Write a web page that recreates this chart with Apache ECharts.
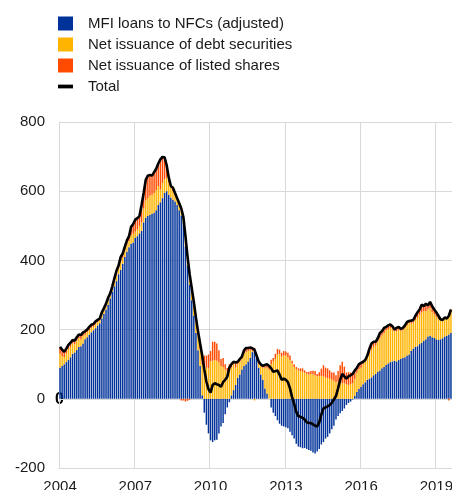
<!DOCTYPE html>
<html>
<head>
<meta charset="utf-8">
<script src="https://cdn.jsdelivr.net/npm/echarts@6/dist/echarts.min.js"></script>
<style>
  html, body { margin: 0; padding: 0; background: #fff; }
  #chart { width: 452px; height: 490px; }
</style>
</head>
<body>
<div id="chart"></div>
<script>
// monthly, Jan 2004 - Aug 2019
const startYear = 2004;
const monthCount = 188;
const yearLabels = ['2004', '2007', '2010', '2013', '2016', '2019'];

const loans = [
  90, 95, 100, 106, 112, 120, 130, 134, 142, 150, 152, 160,
  172, 178, 185, 192, 198, 204, 212, 218, 232, 245, 258, 272,
  290, 310, 325, 340, 360, 373, 390, 410, 425, 438, 448, 452,
  465, 470, 478, 485, 510, 523, 528, 532, 535, 538, 545, 560,
  568, 580, 595, 600, 590, 582, 575, 570, 560, 545, 530, 510,
  440, 385, 330, 285, 240, 190, 140, 95, 10, -40, -75, -100,
  -120, -125, -120, -118, -100, -80, -70, -45, -25, -10, 10, 25,
  40, 60, 70, 85, 95, 100, 108, 118, 135, 140, 120, 90,
  70, 55, 30, 15, 0, -25, -40, -50, -62, -72, -78, -80,
  -82, -85, -95, -105, -115, -130, -138, -140, -143, -142, -145, -148,
  -150, -155, -158, -152, -145, -132, -125, -115, -110, -100, -88, -78,
  -60, -50, -42, -35, -28, -18, -12, -8, -2, 8, 20, 28,
  35, 42, 48, 55, 58, 62, 68, 72, 78, 82, 88, 92,
  98, 102, 106, 108, 110, 108, 112, 115, 118, 120, 125, 128,
  138, 145, 150, 152, 158, 162, 168, 172, 180, 182, 178, 176,
  172, 170, 172, 175, 180, 182, 186, 190
];

const debt = [
  40, 29, 21, 25, 32, 30, 30, 24, 26, 26, 20, 22,
  13, 14, 13, 13, 10, 12, 10, 8, 12, 10, 11, 14,
  9, 9, 15, 20, 17, 25, 18, 20, 21, 18, 24, 25,
  18, 20, 22, 25, 40, 50, 52, 55, 55, 57, 58, 55,
  37, 44, 40, 39, 35, 28, 25, 18, 20, 20, 25, 20,
  38, 31, 33, 33, 35, 37, 45, 50, 90, 95, 90, 88,
  108, 110, 112, 110, 105, 95, 92, 85, 80, 85, 80, 75,
  50, 40, 38, 30, 35, 35, 30, 22, 3, -5, 0, 10,
  25, 35, 60, 75, 85, 100, 108, 115, 128, 130, 122, 125,
  125, 120, 112, 102, 92, 86, 82, 80, 78, 75, 72, 70,
  72, 70, 68, 65, 65, 66, 65, 62, 60, 58, 55, 52,
  48, 50, 48, 45, 45, 42, 40, 42, 45, 50, 55, 58,
  55, 58, 62, 65, 72, 80, 82, 83, 88, 93, 95, 98,
  100, 100, 98, 95, 85, 88, 88, 82, 80, 85, 88, 90,
  80, 75, 78, 82, 85, 88, 85, 82, 78, 80, 72, 68,
  65, 60, 55, 50, 52, 50, 59, 60
];

const shares = [
  20, 18, 15, 14, 12, 12, 10, 10, 10, 10, 12, 10,
  10, 8, 10, 9, 8, 8, 6, 6, 6, 7, 6, 6,
  6, 6, 8, 10, 8, 12, 12, 10, 12, 14, 25, 28,
  35, 32, 28, 50, 45, 60, 65, 60, 55, 60, 62, 65,
  87, 75, 63, 36, 15, 5, 10, 7, 0, 0, -5, -5,
  -8, -6, -3, 2, 5, 8, 10, 15, 25, 30, 35, 40,
  30, 55, 53, 50, 35, 20, 26, 15, 9, 15, 10, 7,
  15, 7, 7, 7, 10, 12, 9, 8, 8, 7, 5, 8,
  5, 5, 8, 10, 10, 13, 10, 15, 16, 12, 11, 13,
  12, 13, 13, 8, 8, 6, 6, 8, 10, 7, 5, 8,
  8, 11, 12, 7, 12, 21, 32, 28, 28, 24, 21, 24,
  20, 30, 49, 62, 48, 34, 37, 34, 29, 24, 15, 14,
  14, 7, 2, 5, 15, 18, 15, 10, 9, 15, 12, 15,
  10, 10, 11, 7, 5, 9, 8, 5, 7, 7, 9, 7,
  8, 8, 12, 16, 15, 22, 15, 21, 12, 18, 18, 14,
  13, 10, 3, 3, 3, 0, -5, 8
];

const total = [
  150, 142, 136, 145, 156, 162, 170, 168, 178, 186, 184, 192,
  195, 200, 208, 214, 216, 224, 228, 232, 250, 262, 275, 292,
  305, 325, 348, 370, 385, 410, 420, 440, 458, 470, 497, 505,
  518, 522, 528, 560, 595, 633, 645, 647, 645, 655, 665, 680,
  692, 699, 698, 675, 640, 615, 610, 595, 580, 565, 550, 525,
  470, 410, 360, 320, 280, 235, 195, 160, 125, 85, 50, 28,
  18, 40, 45, 42, 40, 35, 48, 55, 64, 90, 100, 107,
  105, 107, 115, 122, 140, 147, 147, 148, 146, 142, 125, 108,
  100, 95, 98, 100, 95, 88, 78, 80, 82, 70, 55, 58,
  55, 48, 30, 5, -15, -38, -50, -52, -55, -60, -68, -70,
  -70, -74, -78, -80, -68, -45, -28, -25, -22, -18, -12, -2,
  8, 30, 55, 72, 65, 58, 65, 68, 72, 82, 90, 100,
  104, 107, 112, 125, 145, 160, 165, 165, 175, 190, 195, 205,
  208, 212, 215, 210, 200, 205, 208, 202, 205, 212, 222, 225,
  226, 228, 240, 250, 258, 272, 268, 275, 270, 280, 268, 258,
  250, 240, 230, 228, 235, 232, 240, 258
];

const months = [];
for (let i = 0; i < monthCount; i++) {
  const y = startYear + Math.floor(i / 12);
  const m = (i % 12) + 1;
  months.push(y + '-' + (m < 10 ? '0' + m : m));
}

const chart = echarts.init(document.getElementById('chart'));

// gridline + label every third January
const isTickYear = (idx) => yearLabels.indexOf(months[idx].slice(0, 4)) >= 0 && idx % 12 === 0;

const option = {
  animation: false,
  textStyle: { fontFamily: 'Liberation Sans, Arial, sans-serif' },
  legend: {
    orient: 'vertical',
    left: 53,
    top: 11,
    itemWidth: 15,
    itemHeight: 14,
    itemGap: 6,
    textStyle: { fontSize: 15, color: '#1a1a1a', padding: [0, 0, 0, 10] },
    data: [
      { name: 'MFI loans to NFCs (adjusted)', icon: 'rect' },
      { name: 'Net issuance of debt securities', icon: 'rect' },
      { name: 'Net issuance of listed shares', icon: 'rect' },
      { name: 'Total', icon: 'path://M0,0H18V4.5H0Z' }
    ]
  },
  grid: { left: 59, right: 0, top: 122, bottom: 22, outerBoundsMode: 'none', containLabel: false },
  xAxis: {
    type: 'category',
    data: months,
    boundaryGap: true,
    axisLine: { onZero: false, lineStyle: { color: '#d9d9d9' } },
    axisTick: { show: false },
    axisLabel: {
      interval: (idx) => isTickYear(idx),
      formatter: (v) => v.slice(0, 4),
      fontSize: 15,
      color: '#1a1a1a',
      margin: 11
    },
    splitLine: {
      show: true,
      interval: (idx) => isTickYear(idx),
      lineStyle: { color: '#d9d9d9' }
    }
  },
  yAxis: {
    type: 'value',
    min: -200,
    max: 800,
    interval: 200,
    axisLine: { show: true, lineStyle: { color: '#d9d9d9' } },
    axisTick: { show: false },
    axisLabel: { fontSize: 15, color: '#1a1a1a', margin: 14 },
    splitLine: { lineStyle: { color: '#d9d9d9' } }
  },
  series: [
    {
      name: 'MFI loans to NFCs (adjusted)',
      type: 'bar',
      stack: 'flows',
      data: loans,
      barCategoryGap: '30%',
      itemStyle: { color: '#003299' }
    },
    {
      name: 'Net issuance of debt securities',
      type: 'bar',
      stack: 'flows',
      data: debt,
      itemStyle: { color: '#ffb400' }
    },
    {
      name: 'Net issuance of listed shares',
      type: 'bar',
      stack: 'flows',
      data: shares,
      itemStyle: { color: '#ff4b00' }
    },
    {
      name: 'Total',
      type: 'line',
      data: total,
      symbol: 'none',
      z: 5,
      itemStyle: { color: '#000' },
      lineStyle: { color: '#000', width: 2.6 }
    }
  ],
  graphic: [
    {
      type: 'text',
      left: 55,
      top: 392,
      style: { text: '0', font: 'bold 16px Liberation Sans, Arial, sans-serif', fill: '#000' }
    }
  ]
};

chart.setOption(option);
</script>
</body>
</html>
